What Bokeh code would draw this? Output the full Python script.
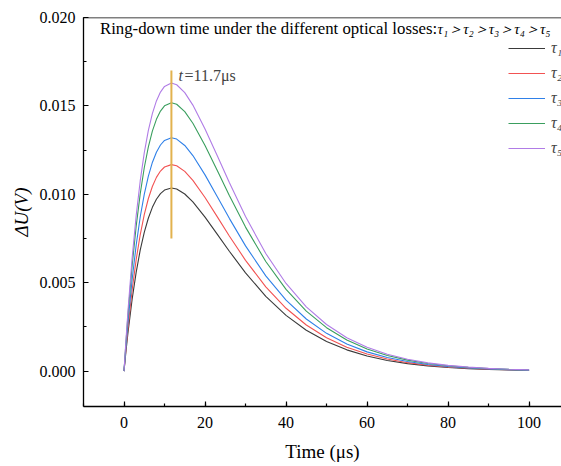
from bokeh.plotting import figure
from bokeh.models import (Legend, LegendItem, Label, Span, SingleIntervalTicker,
                          NumeralTickFormatter, ColumnDataSource)
from bokeh.embed import file_html
from bokeh.resources import INLINE

# ---- data ----
time_us = [0, 0.5, 1, 2, 3, 4, 5, 6, 7, 8, 9, 10, 11.7, 13, 15, 17, 20, 23, 26, 30,
           35, 40, 45, 50, 55, 60, 65, 70, 75, 80, 85, 90, 95, 100]

tau1 = [0, 0.001153, 0.002210, 0.004058, 0.005588, 0.006841, 0.007850, 0.008647,
        0.009263, 0.009719, 0.010038, 0.010240, 0.010360, 0.010301, 0.010018,
        0.009570, 0.008712, 0.007752, 0.006782, 0.005559, 0.004230, 0.003154,
        0.002313, 0.001677, 0.001203, 0.000856, 0.000605, 0.000425, 0.000297,
        0.000206, 0.000143, 0.0000988, 0.0000681, 0.0000467]
tau2 = [0, 0.001300, 0.002491, 0.004575, 0.006300, 0.007712, 0.008850, 0.009749,
        0.010443, 0.010957, 0.011317, 0.011545, 0.011680, 0.011613, 0.011295,
        0.010789, 0.009822, 0.008740, 0.007646, 0.006267, 0.004769, 0.003555,
        0.002608, 0.001891, 0.001356, 0.000965, 0.000682, 0.000479, 0.000335,
        0.000232, 0.000161, 0.000111, 0.0000767, 0.0000527]
tau3 = [0, 0.001469, 0.002816, 0.005170, 0.007120, 0.008716, 0.010002, 0.011018,
        0.011802, 0.012383, 0.012789, 0.013047, 0.013200, 0.013125, 0.012764,
        0.012193, 0.011100, 0.009878, 0.008641, 0.007083, 0.005390, 0.004018,
        0.002948, 0.002137, 0.001533, 0.001090, 0.000771, 0.000541, 0.000379,
        0.000263, 0.000182, 0.000126, 0.0000867, 0.0000595]
tau4 = [0, 0.001690, 0.003238, 0.005946, 0.008188, 0.010023, 0.011502, 0.012671,
        0.013572, 0.014240, 0.014708, 0.015004, 0.015180, 0.015093, 0.014679,
        0.014022, 0.012765, 0.011359, 0.009937, 0.008146, 0.006198, 0.004621,
        0.003390, 0.002458, 0.001762, 0.001254, 0.000887, 0.000622, 0.000436,
        0.000302, 0.000210, 0.000145, 0.0000997, 0.0000685]
tau5 = [0, 0.001813, 0.003475, 0.006381, 0.008787, 0.010756, 0.012343, 0.013597,
        0.014565, 0.015282, 0.015783, 0.016101, 0.016290, 0.016197, 0.015752,
        0.015047, 0.013698, 0.012190, 0.010663, 0.008741, 0.006651, 0.004959,
        0.003638, 0.002637, 0.001891, 0.001346, 0.000951, 0.000668, 0.000468,
        0.000324, 0.000225, 0.000155, 0.000107, 0.0000735]

series_names = ["τ₁", "τ₂", "τ₃", "τ₄", "τ₅"]
series_values = [tau1, tau2, tau3, tau4, tau5]
series_colors = ["#3a3a3a", "#f25252", "#2f80e8", "#3a9e5e", "#b07ce6"]

peak_time = 11.7
marker_y = [0.0075, 0.0170]

x_ticks_interval = 20
y_ticks_interval = 0.005

FONT = "Liberation Serif"

p = figure(width=561, height=466, x_range=(-10, 108), y_range=(-0.002, 0.020),
           output_backend="svg", toolbar_location=None,
           min_border_left=83, min_border_right=0, min_border_top=17,
           min_border_bottom=60)
p.outline_line_color = None
p.xgrid.visible = False
p.ygrid.visible = False
p.background_fill_color = "white"

p.axis.axis_line_color = "black"
p.axis.axis_line_width = 1.3
p.axis.major_tick_in = 5
p.axis.major_tick_out = 0
p.axis.minor_tick_in = 3
p.axis.minor_tick_out = 0
p.axis.major_tick_line_color = "black"
p.axis.minor_tick_line_color = "black"
p.axis.major_tick_line_width = 1.2
p.axis.minor_tick_line_width = 1.2
p.axis.major_label_text_font = FONT
p.axis.major_label_text_font_size = "16px"
p.axis.major_label_text_font_style = "normal"
p.axis.major_label_text_color = "black"
p.axis.axis_label_text_font = FONT
p.axis.axis_label_text_font_size = "19px"
p.axis.axis_label_text_color = "black"

p.xaxis.major_label_standoff = 10
p.yaxis.major_label_standoff = 8

p.xaxis.ticker = SingleIntervalTicker(interval=x_ticks_interval, num_minor_ticks=2)
p.yaxis.ticker = SingleIntervalTicker(interval=y_ticks_interval, num_minor_ticks=2)
p.yaxis.formatter = NumeralTickFormatter(format="0.000")

p.xaxis.axis_label = "Time (μs)"
p.xaxis.axis_label_text_font_style = "normal"
p.xaxis.axis_label_standoff = 10

p.yaxis.axis_label = "ΔU(V)"
p.yaxis.axis_label_text_font_style = "italic"
p.yaxis.axis_label_standoff = 5

# top frame line
p.add_layout(Span(location=0.020, dimension="width", line_color="black", line_width=1.3))

renderers = []
for name, vals, col in zip(series_names, series_values, series_colors):
    src = ColumnDataSource(dict(x=time_us, y=vals))
    r = p.line("x", "y", source=src, line_color=col, line_width=1.1)
    renderers.append((name, r))

# peak marker
p.line([peak_time, peak_time], marker_y, line_color="#e2b24e", line_width=2)

legend = Legend(items=[LegendItem(label=n, renderers=[r]) for n, r in renderers],
                location=(425, 248), glyph_width=37, glyph_height=20,
                label_height=20, spacing=5, padding=0, margin=0,
                label_standoff=6, border_line_color=None,
                background_fill_alpha=0,
                label_text_font=FONT, label_text_font_style="italic",
                label_text_font_size="16px")
p.add_layout(legend)

# texts
p.add_layout(Label(x=-5.93, y=0.01936, text="Ring-down time under the different optical losses:",
                   text_font=FONT, text_font_size="16.8px", text_baseline="middle",
                   text_align="left", text_color="black"))
p.add_layout(Label(x=77.4, y=0.01936, text="τ₁＞τ₂＞τ₃＞τ₄＞τ₅",
                   text_font=FONT, text_font_size="15px", text_font_style="italic",
                   text_baseline="middle", text_align="left", text_color="black"))

p.add_layout(Label(x=13.45, y=0.016715, text="t", text_font=FONT, text_font_size="16px",
                   text_font_style="italic", text_baseline="middle", text_align="left"))
p.add_layout(Label(x=14.93, y=0.016715, text="=11.7μs", text_font=FONT, text_font_size="16px",
                   text_baseline="middle", text_align="left"))

open("out.html", "w").write(file_html(p, INLINE))
